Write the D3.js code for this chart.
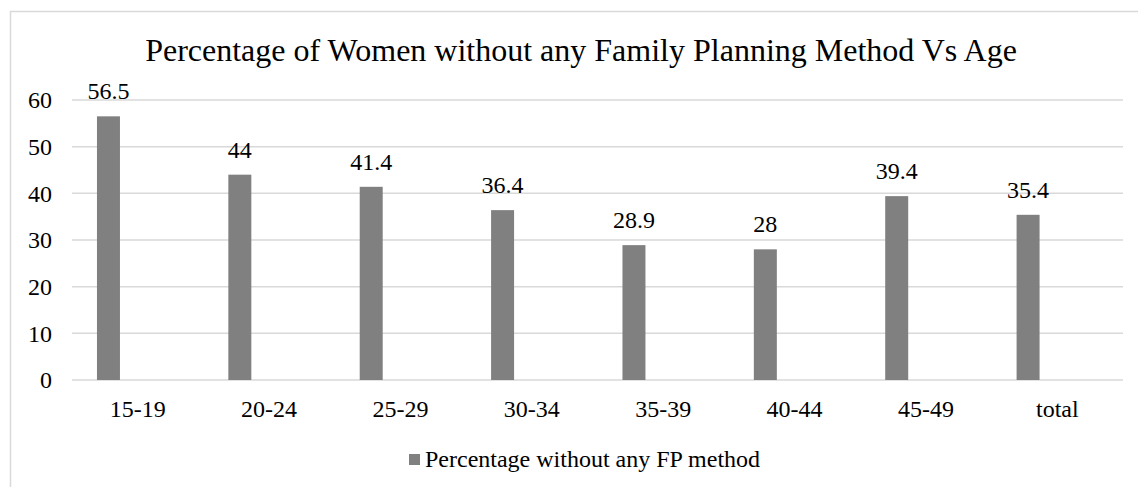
<!DOCTYPE html>
<html>
<head>
<meta charset="utf-8">
<script src="https://cdn.jsdelivr.net/npm/d3@7"></script>
<style>
  body { margin: 0; background: #fff; }
  svg text { font-family: "Liberation Serif", "Times New Roman", Times, serif; fill: #000; }
</style>
</head>
<body>
<script>
const categories = ["15-19", "20-24", "25-29", "30-34", "35-39", "40-44", "45-49", "total"];
const values = [56.5, 44, 41.4, 36.4, 28.9, 28, 39.4, 35.4];
const yTicks = [0, 10, 20, 30, 40, 50, 60];
const seriesName = "Percentage without any FP method";
const title = "Percentage of Women without any Family Planning Method Vs Age";

const w = 1138;
const h = 487;
const plotLeft = 72;
const plotRight = 1123;
const plotTop = 100;
const plotBottom = 380;
const serif = '"Liberation Serif", "Times New Roman", Times, serif';

const svg = d3.select("body").append("svg").attr("width", w).attr("height", h);

// chart frame (cropped on right and bottom)
svg.append("rect")
  .attr("x", 10.5).attr("y", 11.5)
  .attr("width", 1160).attr("height", 520)
  .attr("fill", "none").attr("stroke", "#d9d9d9").attr("stroke-width", 1.5);

svg.append("text")
  .attr("x", 581).attr("y", 61)
  .attr("text-anchor", "middle")
  .attr("font-family", serif)
  .style("font-size", "32px")
  .text(title);

const xScale = d3.scaleBand().domain(categories).range([plotLeft, plotRight]).padding(0);
const yScale = d3.scaleLinear().domain([0, 60]).range([plotBottom, plotTop]);

const bw = xScale.bandwidth();
const barOffset = bw * 0.19;
const barWidth = bw * 0.175;

// gridlines
svg.append("g")
  .selectAll("line")
  .data(yTicks)
  .enter()
  .append("line")
  .attr("x1", plotLeft).attr("x2", plotRight)
  .attr("y1", (d) => yScale(d)).attr("y2", (d) => yScale(d))
  .attr("stroke", "#d9d9d9").attr("stroke-width", 1.5);

// y axis labels
const yAxis = d3.axisLeft(yScale).tickValues(yTicks).tickSize(0).tickPadding(20);
svg.append("g")
  .attr("transform", `translate(${plotLeft}, 0)`)
  .call(yAxis)
  .attr("font-family", serif)
  .call((g) => g.select(".domain").remove())
  .call((g) => g.selectAll("text").style("font-size", "24px").attr("fill", "#000"));

// x axis labels
const xAxis = d3.axisBottom(xScale).tickSize(0).tickPadding(20);
svg.append("g")
  .attr("transform", `translate(0, ${plotBottom})`)
  .call(xAxis)
  .attr("font-family", serif)
  .call((g) => g.select(".domain").remove())
  .call((g) => g.selectAll("text").style("font-size", "24px").attr("fill", "#000"));

// bars
svg.selectAll("rect.bar")
  .data(values)
  .enter()
  .append("rect")
  .attr("class", "bar")
  .attr("x", (d, i) => xScale(categories[i]) + barOffset)
  .attr("y", (d) => yScale(d))
  .attr("width", barWidth)
  .attr("height", (d) => plotBottom - yScale(d))
  .attr("fill", "#808080");

// value labels
svg.selectAll("text.val")
  .data(values)
  .enter()
  .append("text")
  .attr("class", "val")
  .attr("x", (d, i) => xScale(categories[i]) + barOffset + barWidth / 2)
  .attr("y", (d) => yScale(d) - 17)
  .attr("text-anchor", "middle")
  .attr("font-family", serif)
  .style("font-size", "24px")
  .text((d) => d);

// legend
const legend = svg.append("g").attr("transform", "translate(409, 460)");
legend.append("rect")
  .attr("x", 0).attr("y", -6).attr("width", 11).attr("height", 11)
  .attr("fill", "#808080");
legend.append("text")
  .attr("x", 16).attr("y", 7)
  .attr("font-family", serif)
  .style("font-size", "24px")
  .text(seriesName);
</script>
</body>
</html>
